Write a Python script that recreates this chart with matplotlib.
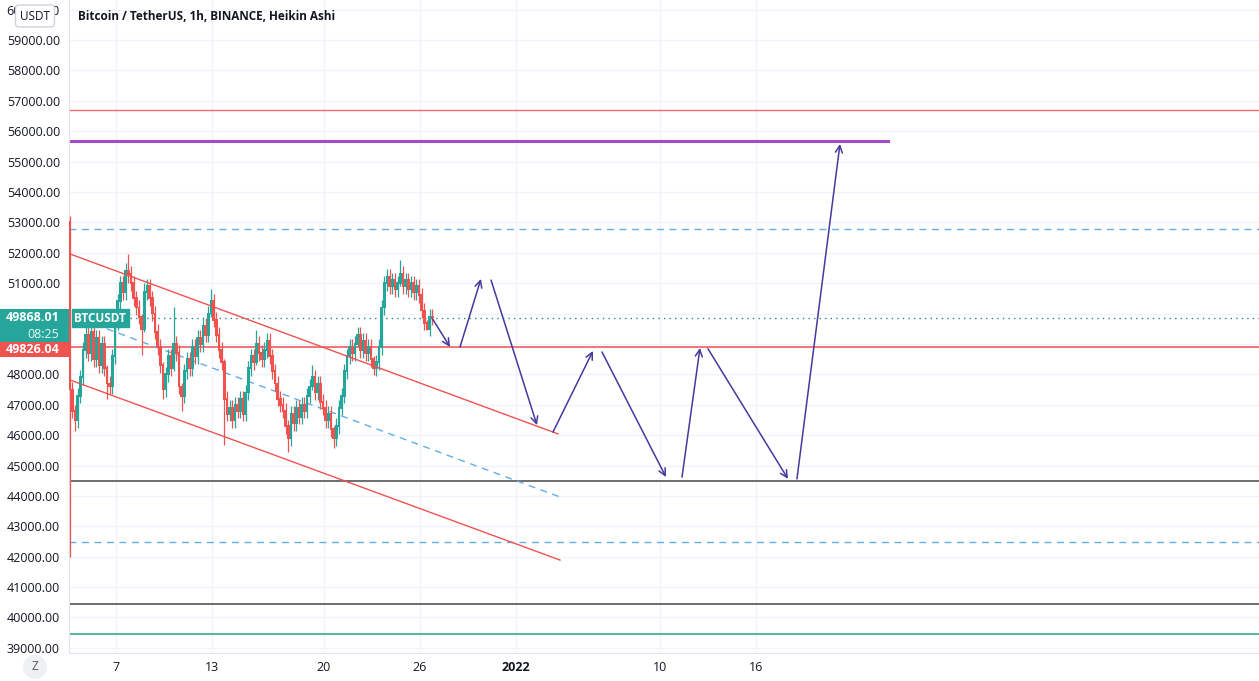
import numpy as np
import matplotlib
matplotlib.use("Agg")
import matplotlib.pyplot as plt
from matplotlib.patches import Ellipse, Rectangle

plt.rcParams["font.family"] = ["Open Sans", "DejaVu Sans"]

# 4-hour Heikin Ashi closes (starting Dec 4)
closes = [
    47500, 46800, 46500, 47300, 47900, 48800, 49300, 48700, 49400, 48500,
    49200, 48300, 49000, 48200, 47700, 47600, 48600, 49700, 50400, 51000,
    50700, 51400, 51300, 51000, 50500, 50200, 49900, 49500, 50700, 50900,
    50500, 50000, 49400, 48900, 48300, 47500, 48000, 48600, 48200, 49000,
    48700, 47600, 47300, 48100, 48500, 48200, 48900, 48600, 49200, 49000,
    49600, 49300, 50000, 50400, 49800, 49300, 48800, 48400, 47200, 46700,
    46900, 46500, 47000, 46800, 47200, 46700, 47400, 48200, 48600, 48400,
    49000, 48700, 48500, 48800, 49100, 48600, 48100, 47700, 47200, 47000,
    46800, 46300, 45900, 46700, 46400, 46900, 46600, 47000, 46800, 47300,
    47600, 47900, 47400, 47700, 47100, 46900, 46500, 46700, 46200, 45900,
    46300, 46900, 47300, 48100, 48600, 48900, 48700, 49000, 49300, 48800,
    49100, 48700, 48900, 48500, 48200, 48400, 48900, 50200, 51000, 51200,
    50900, 51100, 50800, 51000, 51300, 50900, 51100, 50800, 51000, 50700,
    50900, 50600, 50100, 49700, 49500, 49900, 49868,
]
first_open = 53000
# notable wicks: index -> (high, low)
wicks = {
    0: (53200, 42000), 2: (47000, 46150), 14: (48300, 47200), 22: (51950, 51000),
    27: (50000, 48650), 28: (51000, 49400), 35: (48400, 47200), 39: (50200, 48100),
    42: (47700, 46800), 53: (50800, 49900), 58: (48500, 45680), 70: (49460, 48300),
    82: (46500, 45450), 91: (48300, 47500), 99: (46300, 45580), 108: (49560, 48900),
    114: (48600, 47980), 124: (51760, 50900), 134: (49800, 49450),
}
start_day = 4.1
step = 1 / 6

# horizontal levels
red_top = 56700
purple_level = 55680
purple_end = 55.25
blue_high = 52780
last_price = 49860
red_mid = 48900
black_high = 44490
blue_low = 42484
black_low = 40444
green_low = 39457

# channel lines: (day, price) pairs
chan_upper = [(4.125, 51960), (34.625, 46040)]
chan_lower = [(4.125, 47815), (34.75, 41890)]
chan_mid = [(5.69, 49640), (34.75, 43965)]

# projected path arrows
arrows = [
    ((26.79, 49820), (27.875, 48900)),
    ((28.5, 48900), (29.81, 51140)),
    ((30.44, 51100), (33.31, 46330)),
    ((34.31, 46100), (36.81, 48770)),
    ((37.375, 48735), (41.375, 44620)),
    ((42.375, 44620), (43.5, 48870)),
    ((44.0, 48840), (49.0, 44560)),
    ((49.56, 44560), (52.25, 55580)),
]

xticks = [7, 13, 20, 26, 32, 41, 47]
xtick_labels = ["7", "13", "20", "26", "2022", "10", "16"]
yticks = list(range(39000, 60001, 1000))
hidden_ticks = [49000, 50000]  # covered by the price labels

W, H = 1259, 681
fig = plt.figure(figsize=(W / 100, H / 100), dpi=100)
ax = fig.add_axes([69 / W, 28 / H, 1190 / W, 653 / H])
ax.set_xlim(4.06, 78.44)
ax.set_ylim(38832, 60316)

UP = "#26a69a"
DOWN = "#ef5350"
GRID = "#f0f3fa"
TXT = "#131722"

for t in xticks:
    ax.axvline(t, color=GRID, lw=1, zorder=0)
for y in yticks:
    ax.axhline(y, color=GRID, lw=1, zorder=0)

# candles
opens = [first_open] + closes[:-1]
for i, (o, c) in enumerate(zip(opens, closes)):
    t = start_day + i * step
    col = UP if c >= o else DOWN
    hi, lo = wicks.get(i, (max(o, c) + 250, min(o, c) - 250))
    ax.vlines(t, lo, hi, color=col, lw=0.9, zorder=3)
    ax.bar(t, abs(c - o) + 60, bottom=min(o, c) - 30, width=step * 0.95, color=col,
           lw=0, zorder=3)

# levels
ax.axhline(red_top, color="#f06b6b", lw=1, zorder=2)
ax.plot([4.06, purple_end], [purple_level, purple_level], color="#a64bc8", lw=2.2, zorder=2)
ax.axhline(blue_high, color="#64aee8", lw=1, ls=(0, (5, 4)), zorder=2)
ax.axhline(last_price, color="#2a8a7a", lw=1, ls=(0, (1, 3)), zorder=2)
ax.axhline(red_mid, color="#ef4f4f", lw=1.1, zorder=2)
ax.axhline(black_high, color="#555555", lw=1.2, zorder=2)
ax.axhline(blue_low, color="#64aee8", lw=1, ls=(0, (5, 4)), zorder=2)
ax.axhline(black_low, color="#555555", lw=1.2, zorder=2)
ax.axhline(green_low, color="#3aaa90", lw=1.2, zorder=2)

for line in (chan_upper, chan_lower):
    xs, ys = zip(*line)
    ax.plot(xs, ys, color="#ef5350", lw=1, zorder=4)
xs, ys = zip(*chan_mid)
ax.plot(xs, ys, color="#64aee8", lw=1, ls=(0, (5, 4)), zorder=2)

for (x0, y0), (x1, y1) in arrows:
    ax.annotate("", xy=(x1, y1), xytext=(x0, y0),
                arrowprops=dict(arrowstyle="->,head_length=0.5,head_width=0.25",
                                color="#433a9c", lw=1.1, shrinkA=0, shrinkB=0),
                zorder=5)

# axes look
for s in ("top", "right"):
    ax.spines[s].set_visible(False)
ax.spines["left"].set_color("#e0e3eb")
ax.spines["bottom"].set_color("#e0e3eb")
ax.set_yticks(yticks)
ax.set_yticklabels(["" if v in hidden_ticks else f"{v:.2f}" for v in yticks])
ax.set_xticks(xticks)
ax.set_xticklabels(xtick_labels)
ax.tick_params(axis="y", length=0, pad=6.5, labelsize=9, labelcolor=TXT)
ax.tick_params(axis="x", length=0, pad=6, labelsize=9, labelcolor=TXT)
for lbl in ax.get_xticklabels():
    if lbl.get_text() == "2022":
        lbl.set_fontweight("bold")

# title
ax.text(0.0075, 0.975, "Bitcoin / TetherUS, 1h, BINANCE, Heikin Ashi",
        transform=ax.transAxes, fontsize=8.5, fontweight="bold", color=TXT,
        ha="left", va="center")

# price labels on the left axis
yax = ax.get_yaxis_transform()
lab_w = 69 / 1190
ax.add_patch(Rectangle((-lab_w, last_price - 796), lab_w, 1086, transform=yax,
                       fc=UP, ec="none", clip_on=False, zorder=6))
ax.add_patch(Rectangle((-lab_w, red_mid - 330), lab_w, 494, transform=yax,
                       fc=DOWN, ec="none", clip_on=False, zorder=6))
ax.text(-0.008, last_price, "49868.01", transform=yax, ha="right", va="center",
        fontsize=9, fontweight="bold", color="white", clip_on=False, zorder=7)
ax.text(-0.008, last_price - 560, "08:25", transform=yax, ha="right", va="center",
        fontsize=9, color="#e8f6f4", clip_on=False, zorder=7)
ax.text(-0.008, red_mid - 70, "49826.04", transform=yax, ha="right", va="center",
        fontsize=9, fontweight="bold", color="white", clip_on=False, zorder=7)
ax.text(4.4, last_price - 10, "BTCUSDT", ha="left", va="center", fontsize=8.5,
        fontweight="bold", color="white",
        bbox=dict(boxstyle="square,pad=0.2", fc=UP, ec=UP), zorder=6)

# USDT currency box over the top tick label
fig.text(35 / W, 1 - 16 / H, "USDT", ha="center", va="center", fontsize=8.5, color=TXT,
         bbox=dict(boxstyle="round,pad=0.38,rounding_size=0.3", fc="white", ec="#d1d4dc"),
         zorder=10)

# Z button
fig.patches.append(Ellipse((35 / W, 1 - 667 / H), 24 / W, 24 / H,
                           transform=fig.transFigure, fc="#eef0f4", ec="none"))
fig.text(35 / W, 1 - 667 / H, "Z", ha="center", va="center", fontsize=8.5, color="#555")

fig.savefig("out.png", dpi=100)
